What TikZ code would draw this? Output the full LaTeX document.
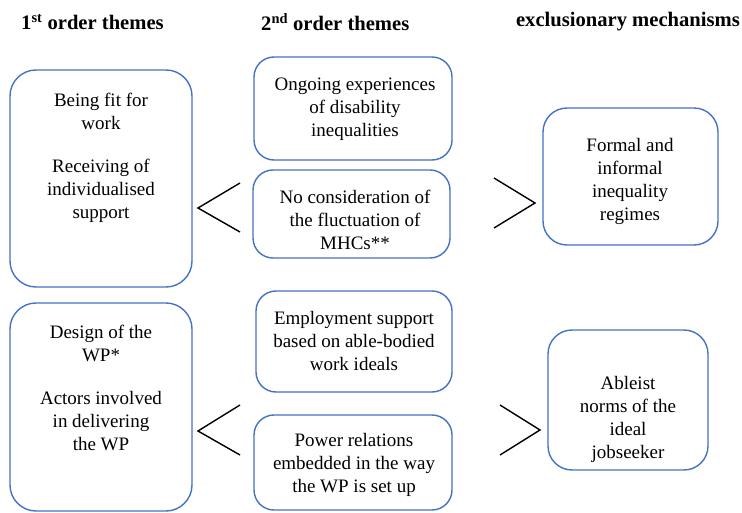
\documentclass[tikz,border=0pt]{standalone}
\usepackage{fontspec}
\setmainfont{Liberation Serif}
\definecolor{boxblue}{RGB}{68,114,196}
\begin{document}
\begin{tikzpicture}[x=1pt,y=-1pt,
  box/.style={draw=boxblue, line width=1.4pt, rounded corners=#1, inner sep=0pt},
  txt/.style={align=center, inner sep=0pt, font=\fontsize{19}{23}\selectfont},
  head/.style={inner sep=0pt, font=\fontsize{20.6}{24}\selectfont\bfseries},
  chev/.style={draw=black, line width=1.4pt}]
\useasboundingbox (0,0) rectangle (742,513);
% headers
\node[head, anchor=west] (h1) at (21,22) {1\textsuperscript{st} order themes};
\node[head, anchor=west] (h2) at (261,22) {2\textsuperscript{nd} order themes};
\node[head, anchor=east] (h3) at (740,22) {exclusionary mechanisms};
% boxes top
\node[box=26pt, minimum width=182pt, minimum height=217pt] (lt) at (101,178.5) {};
\node[box=20pt, minimum width=198pt, minimum height=103pt] (ct1) at (353,108.5) {};
\node[box=20pt, minimum width=197pt, minimum height=88pt] (ct2) at (351.5,214) {};
\node[box=24pt, minimum width=175pt, minimum height=137pt] (rt) at (630.5,176.5) {};
% boxes bottom
\node[box=26pt, minimum width=182pt, minimum height=208pt] (lb) at (101,407) {};
\node[box=20pt, minimum width=196pt, minimum height=101pt] (cb1) at (354,341.5) {};
\node[box=20pt, minimum width=198pt, minimum height=95pt] (cb2) at (353,462.5) {};
\node[box=24pt, minimum width=160pt, minimum height=140pt] (rb) at (628,400) {};
% texts
\node[txt] (tlt) at (101,158) {Being fit for\\work\\[20pt]Receiving of\\individualised\\support};
\node[txt] (tct1) at (355,109) {Ongoing experiences\\of disability\\inequalities};
\node[txt] (tct2) at (355,219.5) {No consideration of\\the fluctuation of\\MHCs**};
\node[txt] (trt) at (630,181) {Formal and\\informal\\inequality\\regimes};
\node[txt] (tlb) at (101,388) {Design of the\\WP*\\[20pt]Actors involved\\in delivering\\the WP};
\node[txt] (tcb1) at (354,341) {Employment support\\based on able-bodied\\work ideals};
\node[txt] (tcb2) at (354,464.5) {Power relations\\embedded in the way\\the WP is set up};
\node[txt] (trb) at (628,419) {Ableist\\norms of the\\ideal\\jobseeker};
% chevrons
\draw[chev] (240,183) -- (198,208) -- (240,232);
\draw[chev] (494,178) -- (535,203) -- (494,228);
\draw[chev] (240,405) -- (198,431) -- (240,455);
\draw[chev] (500,405) -- (540,430) -- (500,455);
\end{tikzpicture}
\end{document}
